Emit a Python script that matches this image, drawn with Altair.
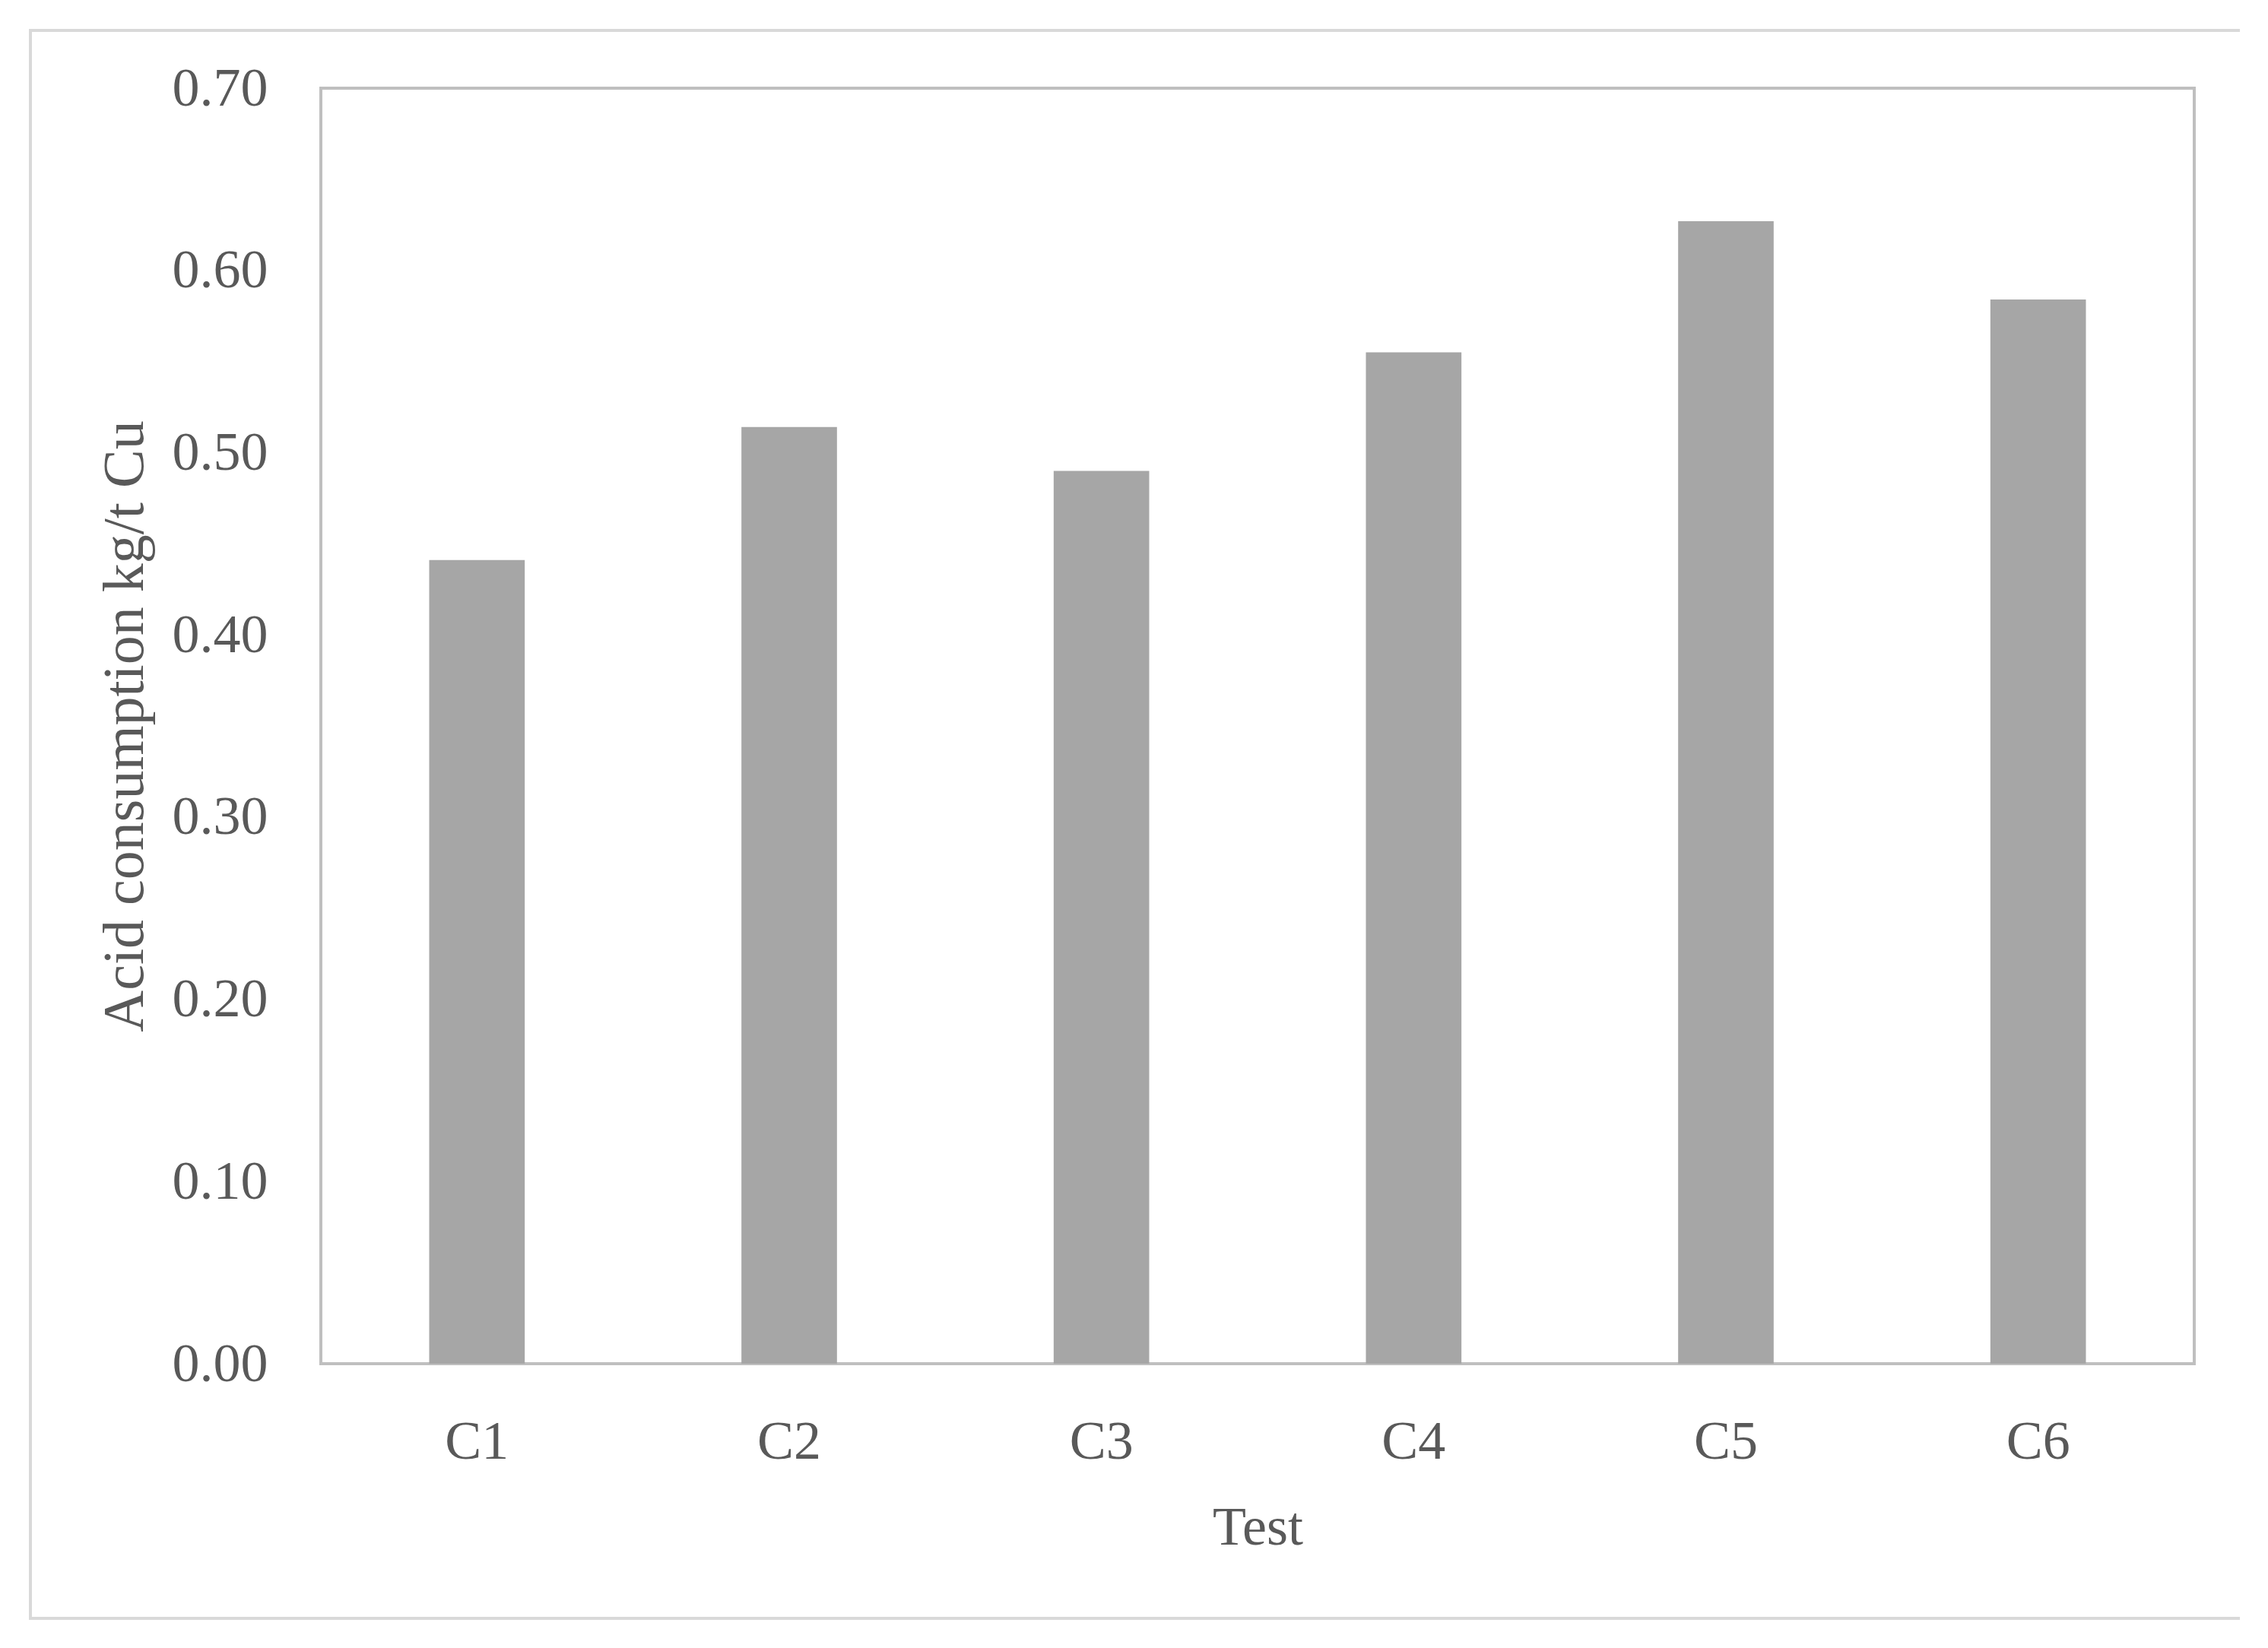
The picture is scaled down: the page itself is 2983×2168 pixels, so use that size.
import altair as alt
import pandas as pd

tests = ["C1", "C2", "C3", "C4", "C5", "C6"]
acid = [0.441, 0.514, 0.490, 0.555, 0.627, 0.584]
y_ticks = [0.0, 0.1, 0.2, 0.3, 0.4, 0.5, 0.6, 0.7]

df = pd.DataFrame({"Test": tests, "Acid": acid})

W, H = 2464, 1678
FONT = "Liberation Serif"
TXT = "#595959"

bars = alt.Chart(df).mark_bar(color="#a6a6a6").encode(
    x=alt.X(
        "Test:N",
        sort=tests,
        scale=alt.Scale(paddingInner=0.694, paddingOuter=0.347),
        axis=alt.Axis(
            title="Test",
            labelAngle=0,
            ticks=False,
            domain=False,
            labelFont=FONT,
            labelFontSize=72,
            labelColor=TXT,
            labelBaseline="alphabetic",
            labelPadding=124,
            titleFont=FONT,
            titleFontSize=72,
            titleFontWeight="normal",
            titleColor=TXT,
            titleBaseline="alphabetic",
            titleX=W / 2,
            titleY=237,
        ),
    ),
    y=alt.Y(
        "Acid:Q",
        scale=alt.Scale(domain=[0, 0.7], nice=False),
        axis=alt.Axis(
            values=y_ticks,
            format=".2f",
            title="Acid consumption kg/t Cu",
            ticks=False,
            domain=False,
            grid=False,
            labelFont=FONT,
            labelFontSize=72,
            labelColor=TXT,
            labelPadding=70,
            labelBaseline="middle",
            titleFont=FONT,
            titleFontSize=76,
            titleFontWeight="normal",
            titleColor=TXT,
            titleBaseline="middle",
            titleX=-258,
            titleY=H / 2,
        ),
    ),
)

one = pd.DataFrame({"f": [0]})

frame = alt.Chart(one).mark_rect(
    filled=False, stroke="#d9d9d9", strokeWidth=4
).encode(
    x=alt.value(40 - 422),
    x2=alt.value(2953 - 422),
    y=alt.value(40 - 116),
    y2=alt.value(2129 - 116),
)

plot_border = alt.Chart(one).mark_rect(
    filled=False, stroke="#bfbfbf", strokeWidth=4
).encode(
    x=alt.value(0),
    x2=alt.value(W),
    y=alt.value(0),
    y2=alt.value(H),
)

chart = alt.layer(frame, plot_border, bars).properties(
    width=W,
    height=H,
    autosize=alt.AutoSizeParams(type="none"),
    padding={"left": 414, "top": 108, "right": 60, "bottom": 340},
).configure_view(
    strokeWidth=0
).configure(background="white")

chart.save("out.html", embed_options={"renderer": "svg", "actions": False})
